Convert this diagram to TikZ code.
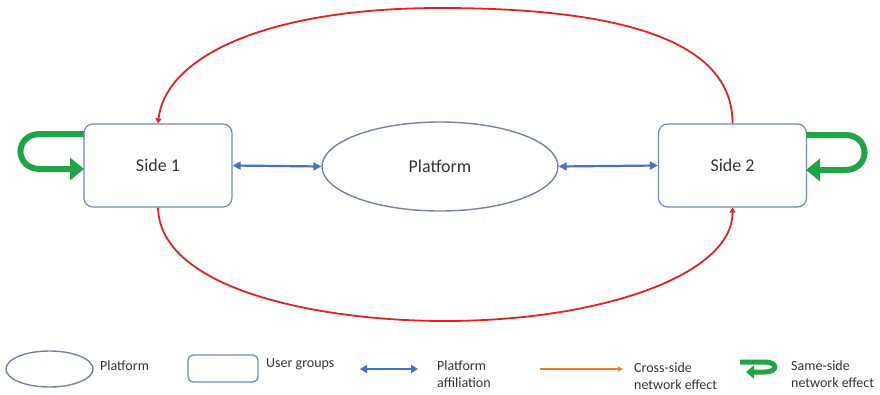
\documentclass[tikz,border=0pt]{standalone}
\usepackage{fontspec}
\setmainfont{Carlito}
\usetikzlibrary{arrows.meta,shapes.geometric}
\definecolor{boxline}{HTML}{7088C2}
\definecolor{ellline}{HTML}{7282AC}
\definecolor{affblue}{HTML}{4472C4}
\definecolor{crossred}{HTML}{E0231C}
\definecolor{legorange}{HTML}{ED7D31}
\definecolor{samegreen}{HTML}{1FA544}
\definecolor{txt}{HTML}{333333}
\tikzset{
  userbox/.style={draw=boxline, line width=1.2pt, rounded corners=9pt, fill=white,
    minimum width=148pt, minimum height=83pt, text=txt, font=\fontsize{18}{20}\selectfont},
  platbox/.style={draw=ellline, line width=1.4pt, ellipse, fill=white,
    minimum width=236pt, minimum height=89pt, text=txt, font=\fontsize{18}{20}\selectfont},
  affarrow/.style={draw=affblue, line width=2.2pt,
    {Triangle[width=8pt,length=8pt]}-{Triangle[width=8pt,length=8pt]}},
  crossarrow/.style={draw=crossred, line width=1.8pt, -{Triangle[width=6pt,length=5pt]}},
  samearrow/.style={draw=samegreen, line width=6pt, -{Triangle[width=22pt,length=14pt]}},
  legtext/.style={text=txt, font=\fontsize{14}{17}\selectfont, anchor=west, align=left, inner sep=0pt},
}
\begin{document}
\begin{tikzpicture}[x=1pt,y=-1pt]
\useasboundingbox (0,0) rectangle (880,394);

% main nodes
\node[userbox] (s1) at (158,165.5) {Side 1};
\node[userbox] (s2) at (732.5,165.5) {Side 2};
\node[platbox] (plat) at (440,166.5) {Platform};

% platform affiliation
\draw[affarrow] (s1.east) -- (plat.west);
\draw[affarrow] (plat.east) -- (s2.west);

% cross-side network effects
\draw[crossarrow] (s2.north) .. controls (733,40) and (620,8) .. (440,8)
  .. controls (270,8) and (166,55) .. (s1.north);
\draw[crossarrow] (s1.south) .. controls (160,290) and (320,321) .. (445,321)
  .. controls (600,321) and (733,275) .. (s2.south);

% same-side network effects
\coordinate (l1) at (84,134);
\coordinate (l2) at (84,169);
\draw[samearrow] (l1) -- (40,134) .. controls (14,134) and (14,169) .. (40,169) -- (l2);
\coordinate (r1) at (806,135);
\coordinate (r2) at (806,170);
\draw[samearrow] (r1) -- (845,135) .. controls (871,135) and (871,170) .. (845,170) -- (r2);

% legend
\node[draw=ellline, line width=1.4pt, ellipse, minimum width=87pt, minimum height=36pt] (lgell) at (49.5,369) {};
\node[legtext] (lgellt) at (100,366) {Platform};
\node[draw=boxline, line width=1.3pt, rounded corners=5pt, minimum width=70pt, minimum height=27pt] (lgbox) at (223,368.5) {};
\node[legtext] (lgboxt) at (266,364) {User groups};
\coordinate (ba) at (360,369);
\coordinate (bb) at (418,369);
\draw[draw=affblue, line width=2.2pt, {Triangle[width=8pt,length=7pt]}-{Triangle[width=8pt,length=7pt]}] (ba) -- (bb);
\node[legtext] (lgafft) at (437,374.5) {Platform\\affiliation};
\coordinate (oa) at (540,369);
\coordinate (ob) at (623,369);
\draw[draw=legorange, line width=1.3pt, -{Triangle[width=5pt,length=5pt]}] (oa) -- (ob);
\node[legtext] (lgcrosst) at (634,376.5) {Cross-side\\network effect};
\coordinate (ga) at (740,362);
\coordinate (gb) at (746,372);
\draw[draw=samegreen, line width=5pt, -{Triangle[width=13pt,length=8pt]}] (ga) -- (765,362) .. controls (778,362) and (778,372) .. (765,372) -- (gb);
\node[legtext] (lgsamet) at (791,374) {Same-side\\network effect};
\end{tikzpicture}
\end{document}
